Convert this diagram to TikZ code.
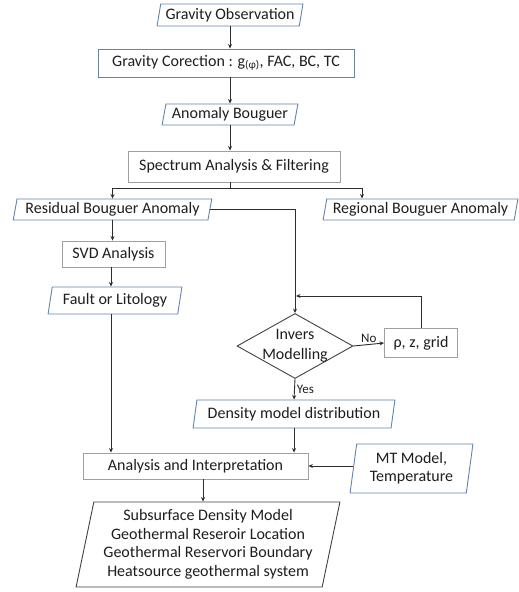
\documentclass[tikz,border=0pt]{standalone}
\usepackage{fontspec}
\setmainfont{Carlito}
\usetikzlibrary{shapes.geometric,arrows.meta,calc}
\definecolor{paraC}{RGB}{100,132,172}
\definecolor{rectC}{RGB}{160,160,160}
\definecolor{lineC}{RGB}{45,45,45}
\definecolor{txtC}{RGB}{30,30,30}
\begin{document}
\begin{tikzpicture}[x=1pt,y=-1pt,
  every node/.style={font=\fontsize{16}{18}\selectfont, text=txtC, inner sep=0pt},
  para/.style={trapezium, trapezium left angle=76, trapezium right angle=104, trapezium stretches=true, draw=paraC, line width=0.9pt, fill=white},
  rbox/.style={rectangle, draw=rectC, line width=0.9pt, fill=white},
  arr/.style={draw=lineC, line width=0.9pt, -{Stealth[length=4.5pt,width=4pt]}},
  ln/.style={draw=lineC, line width=0.9pt},
  lab/.style={font=\fontsize{13}{15}\selectfont}
]
\useasboundingbox (0,0) rectangle (519,592);
\fill[white] (0,0) rectangle (519,592);

\node[para, minimum width=146, minimum height=22] (obs) at (230,15) {Gravity Observation};
\node[rbox, draw=paraC!80!gray, minimum width=256, minimum height=28] (corr) at (226,63) {Gravity Corection : g\textsubscript{(φ)}, FAC, BC, TC};
\node[para, minimum width=136, minimum height=21] (boug) at (230,114.5) {Anomaly Bouguer};
\node[rbox, minimum width=212, minimum height=31] (spec) at (234,166.5) {Spectrum Analysis \& Filtering};
\node[para, minimum width=199, minimum height=21] (resid) at (112.5,209.5) {Residual Bouguer Anomaly};
\node[para, minimum width=195, minimum height=21] (regio) at (420.5,209.5) {Regional Bouguer Anomaly};
\node[rbox, minimum width=103, minimum height=26] (svd) at (113.5,254) {SVD Analysis};
\node[para, minimum width=134, minimum height=27] (fault) at (115,300.5) {Fault or Litology};
\node[diamond, draw=lineC!90, line width=0.9pt, minimum width=116, minimum height=65, fill=white,
      label={[align=center, font=\fontsize{16}{20}\selectfont, text=txtC]center:Invers\\Modelling}] (inv) at (295,346) {};
\node[rbox, minimum width=73, minimum height=29] (rho) at (421,343) {ρ, z, grid};
\node[para, minimum width=202, minimum height=28] (dens) at (294,414) {Density model distribution};
\node[rbox, minimum width=225, minimum height=26] (anal) at (195.5,466) {Analysis and Interpretation};
\node[para, trapezium left angle=81, trapezium right angle=99, minimum width=123, minimum height=49, align=center] (mt) at (411.5,468.5) {MT Model,\\Temperature};
\node[para, draw=lineC!90, trapezium left angle=76.8, trapezium right angle=103.2, minimum width=264, minimum height=85, align=center, font=\fontsize{16}{18.5}\selectfont] (final) at (208,544.5)
  {Subsurface Density Model\\Geothermal Reseroir Location\\Geothermal Reservori Boundary\\Heatsource geothermal system};

\coordinate (sp) at (230,188);
\coordinate (rg) at (362,188);
\coordinate (fb) at (296,296);
\coordinate (af) at (203,0);
\coordinate (ax) at (111,0);

\draw[arr] (obs.south) -- (obs.south |- corr.north);
\draw[arr] (corr.south -| boug.north) -- (boug.north);
\draw[arr] (boug.south) -- (boug.south |- spec.north);
\draw[ln] (spec.south -| sp) -- (sp);
\draw[arr] (sp) -| (resid.north);
\draw[arr] (sp) -- (rg) -- (rg |- regio.north);
\draw[arr] (resid.east) -| (inv.north);
\draw[arr] (resid.south) -- (resid.south |- svd.north);
\draw[arr] (svd.south -| ax) -- (ax |- fault.north);
\draw[arr] (fault.south -| ax) -- (ax |- anal.north);
\draw[arr] (inv.east) -- node[above=1pt, lab] {No} (rho.west);
\draw[arr] (rho.north) |- (fb);
\draw[arr] (inv.south) -- node[right=2pt, lab] {Yes} (dens.north);
\draw[arr] (dens.south) -- (dens.south |- anal.north);
\draw[arr] (anal.east -| mt.west) -- (anal.east);
\draw[arr] (anal.south -| af) -- (af |- final.north);
\end{tikzpicture}
\end{document}
